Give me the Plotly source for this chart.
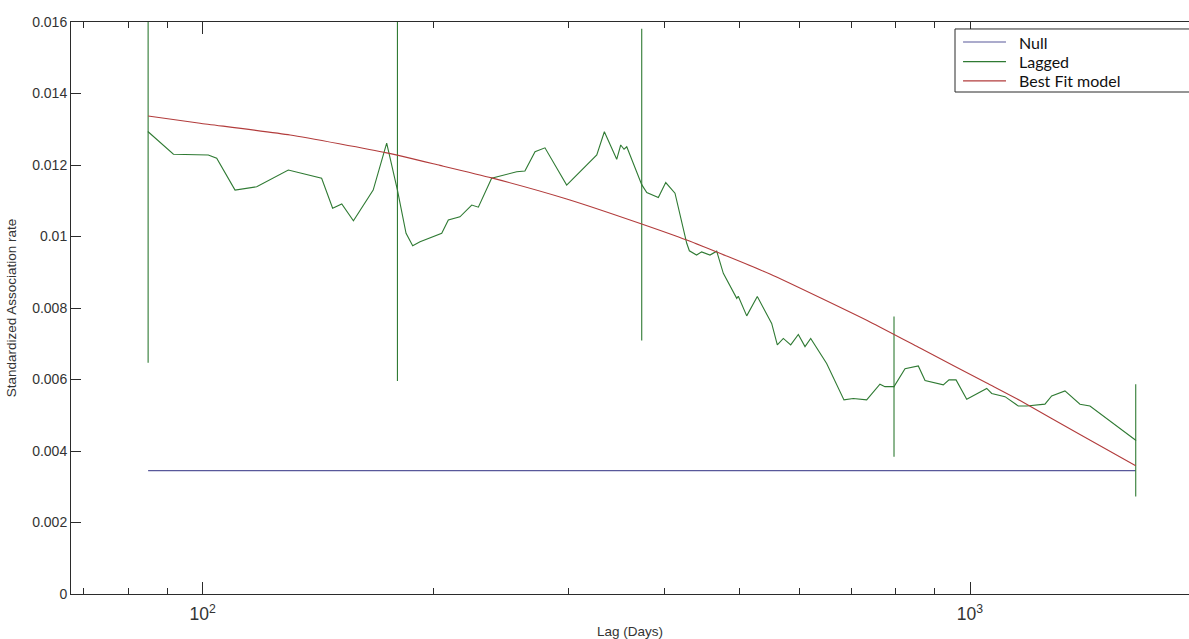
import plotly.graph_objects as go

# Lagged association rate by lag (days)
lag_days = [
    84.9, 91.6, 101.7, 104.3, 110.2, 117.6, 129.3, 142.9, 147.7, 151.8,
    157.2, 166.8, 173.7, 179.4, 184.1, 187.8, 192.0, 204.9, 209.0, 216.4,
    224.2, 228.7, 238.0, 246.5, 256.6, 263.0, 271.1, 279.3, 298.1, 326.3,
    333.8, 346.4, 350.6, 354.1, 357.0, 373.4, 379.1, 392.5, 401.3, 412.6,
    427.4, 430.8, 440.2, 447.0, 458.3, 467.6, 477.0, 496.6, 498.9, 511.7,
    528.2, 551.5, 560.9, 571.1, 583.9, 597.4, 609.5, 620.0, 650.4, 685.1,
    704.5, 733.4, 763.2, 774.7, 796.1, 822.8, 856.3, 873.8, 923.0, 938.9,
    959.0, 990.2, 1051.5, 1067.3, 1110.7, 1155.8, 1185.4, 1252.2, 1277.7, 1329.7,
    1391.0, 1433.3, 1644.3,
]
lagged_rate = [
    0.01293, 0.0123, 0.01228, 0.01219, 0.0113, 0.01139, 0.01186, 0.01163, 0.01079, 0.01091,
    0.01044, 0.0113, 0.01261, 0.0113, 0.01009, 0.00974, 0.00985, 0.01009, 0.01046, 0.01055,
    0.01088, 0.01082, 0.01163, 0.01172, 0.01181, 0.01183, 0.01237, 0.01248, 0.01144, 0.01228,
    0.01293, 0.01216, 0.01256, 0.01244, 0.01251, 0.01145, 0.01123, 0.01109, 0.01151, 0.01121,
    0.00981, 0.0096, 0.00948, 0.00957, 0.00948, 0.00959, 0.00897, 0.00827, 0.00833, 0.00778,
    0.00832, 0.00757, 0.00697, 0.00715, 0.00697, 0.00726, 0.00692, 0.00715, 0.00645, 0.00543,
    0.00547, 0.00543, 0.00587, 0.0058, 0.0058, 0.0063, 0.00638, 0.00597, 0.00585, 0.00599,
    0.00599, 0.00545, 0.00575, 0.00561, 0.00552, 0.00526, 0.00526, 0.00531, 0.00554, 0.00568,
    0.00531, 0.00526, 0.0043,
]

# Jackknife error bars (half-widths) at selected lags
err_lag = [84.9, 179.4, 373.4, 796.1, 1644.3]
err_rate = [0.01293, 0.0113, 0.01145, 0.0058, 0.0043]
err_half = [0.00646, 0.00534, 0.00436, 0.00196, 0.00157]

# Best fit model curve
fit_lag = [84.9, 99.2, 130.0, 173.7, 203.8, 238.0, 298.1, 373.4, 427.4, 548.6,
           740.7, 860.7, 1051.5, 1162.0, 1391.0, 1644.3]
fit_rate = [0.01337, 0.01317, 0.01284, 0.01234, 0.01199, 0.01164, 0.01105, 0.01035, 0.0099, 0.00895,
            0.00761, 0.00688, 0.0059, 0.00541, 0.00446, 0.00359]

# Null association rate
null_lag = [84.9, 1644.3]
null_rate = [0.00345, 0.00345]

y_ticks = [0, 0.002, 0.004, 0.006, 0.008, 0.01, 0.012, 0.014, 0.016]
y_tick_text = ["0", "0.002", "0.004", "0.006", "0.008", "0.01", "0.012", "0.014", "0.016"]

legend_names = ["Null", "Lagged", "Best Fit model"]

NULL_C = "#58589a"
LAG_C = "#2f7a33"
FIT_C = "#b23c3c"
AXIS_C = "#2b2b2b"

fig = go.Figure()
fig.add_trace(go.Scatter(x=null_lag, y=null_rate, mode="lines", name=legend_names[0],
                         line=dict(color=NULL_C, width=1.2), showlegend=False))
fig.add_trace(go.Scatter(x=lag_days, y=lagged_rate, mode="lines", name=legend_names[1],
                         line=dict(color=LAG_C, width=1.1), showlegend=False))
fig.add_trace(go.Scatter(x=err_lag, y=err_rate, mode="markers", name=legend_names[1],
                         marker=dict(size=1, color=LAG_C),
                         error_y=dict(type="data", array=err_half, visible=True,
                                      color=LAG_C, thickness=1.1, width=0),
                         showlegend=False))
fig.add_trace(go.Scatter(x=fit_lag, y=fit_rate, mode="lines", name=legend_names[2],
                         line=dict(color=FIT_C, width=1.1, shape="spline", smoothing=0.5),
                         showlegend=False))

# Legend box drawn in paper coordinates
legend_colors = [NULL_C, LAG_C, FIT_C]
legend_y = [0.9650, 0.9309, 0.8969]
fig.add_shape(type="rect", xref="paper", yref="paper", x0=0.7907, x1=1.05, y0=0.8776, y1=0.9878,
              line=dict(color=AXIS_C, width=1), fillcolor="white", layer="above")
for name, col, yy in zip(legend_names, legend_colors, legend_y):
    fig.add_shape(type="line", xref="paper", yref="paper", x0=0.7979, x1=0.8363, y0=yy, y1=yy,
                  line=dict(color=col, width=1.2), layer="above")
    fig.add_annotation(xref="paper", yref="paper", x=0.847, y=yy, text=name, showarrow=False,
                       xanchor="left", yanchor="middle", borderpad=0,
                       font=dict(family="Lato", size=16, color="#111111"))

fig.update_layout(
    width=1189, height=639,
    margin=dict(l=71, r=0, t=22, b=45),
    paper_bgcolor="white", plot_bgcolor="white",
    showlegend=False,
    font=dict(family="Liberation Sans", size=14, color="#333333"),
)
fig.update_xaxes(
    type="log", range=[1.8284, 3.2854],
    dtick=1, tick0=0, exponentformat="power",
    showgrid=False, zeroline=False,
    showline=True, linecolor=AXIS_C, linewidth=1, mirror="ticks",
    ticks="inside", ticklen=12, tickcolor=AXIS_C, tickwidth=1,
    minor=dict(ticks="inside", ticklen=6, dtick="D1", tickcolor=AXIS_C, tickwidth=1, showgrid=False),
    tickfont=dict(size=14, color="#333333"), ticklabelstandoff=5,
    title=dict(text="Lag (Days)", font=dict(size=13.5, color="#333333"), standoff=3),
)
fig.update_yaxes(
    range=[0, 0.016], tickvals=y_ticks, ticktext=y_tick_text,
    showgrid=False, zeroline=False,
    showline=True, linecolor=AXIS_C, linewidth=1, mirror=False,
    ticks="inside", ticklen=10, tickcolor=AXIS_C, tickwidth=1,
    tickfont=dict(size=14, color="#333333"),
    title=dict(text="Standardized Association rate", font=dict(size=13.5, color="#333333"), standoff=12),
)

fig.write_html("out.html")
